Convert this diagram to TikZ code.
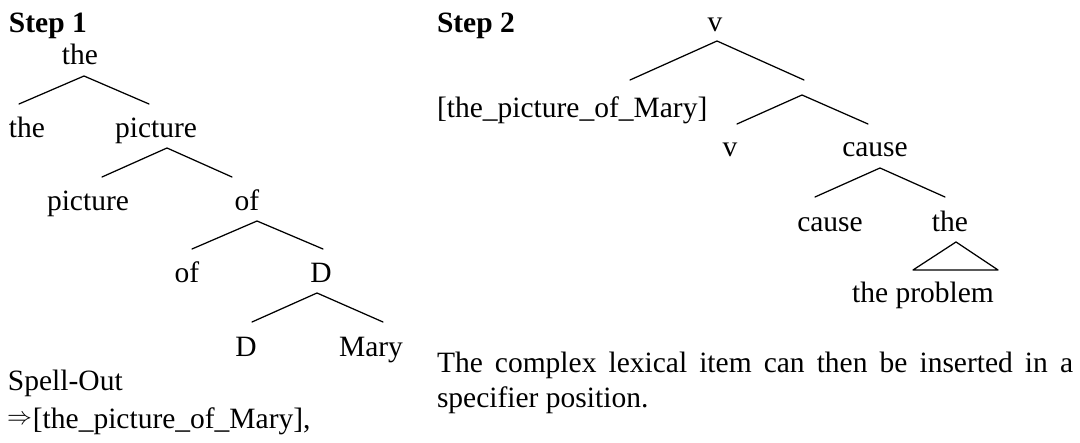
\documentclass[tikz,border=0pt]{standalone}
\usepackage{fontspec}
\setmainfont{Liberation Serif}
\begin{document}
\begin{tikzpicture}[x=1pt,y=-1pt,
  every node/.style={font=\fontsize{29.5}{35}\selectfont, inner sep=0pt, outer sep=0pt},
  lbl/.style={anchor=base},
  txt/.style={anchor=base west},
  edge/.style={line width=1.25pt, line cap=round, line join=round}]
\useasboundingbox (0,0) rectangle (1080,443);

% ---------- Step 1 ----------
\node[txt] (s1) at (9,33) {\bfseries Step 1};
\node[lbl] (a0) at (80,65) {the};
\node[lbl] (a1) at (27,138) {the};
\node[lbl] (a2) at (156,138) {picture};
\node[lbl] (b1) at (88,211) {picture};
\node[lbl] (b2) at (247,211) {of};
\node[lbl] (c1) at (187,283) {of};
\node[lbl] (c2) at (321,283) {D};
\node[lbl] (d1) at (246,357) {D};
\node[lbl] (d2) at (371,357) {Mary};
\node[txt] (so) at (8,391) {Spell-Out};
\node[txt] (res) at (7,429) {\raisebox{4.5pt}{\fontsize{23}{23}\selectfont$\Rightarrow$}\kern1pt[the\_picture\_of\_Mary],};

\coordinate (pa) at (84,76);  \coordinate (pal) at (19,104);  \coordinate (par) at (149,104);
\coordinate (pb) at (167,148); \coordinate (pbl) at (102,177); \coordinate (pbr) at (232,177);
\coordinate (pc) at (257,221); \coordinate (pcl) at (192,249); \coordinate (pcr) at (323,249);
\coordinate (pd) at (317,293); \coordinate (pdl) at (252,322); \coordinate (pdr) at (383,322);
\draw[edge] (pal) -- (pa) -- (par);
\draw[edge] (pbl) -- (pb) -- (pbr);
\draw[edge] (pcl) -- (pc) -- (pcr);
\draw[edge] (pdl) -- (pd) -- (pdr);

% ---------- Step 2 ----------
\node[txt] (s2) at (437,33) {\bfseries Step 2};
\node[lbl] (v0) at (715,32) {v};
\node[txt] (tpm) at (437,118) {[the\_picture\_of\_Mary]};
\node[lbl] (v1) at (730,157) {v};
\node[lbl] (k0) at (875,157) {cause};
\node[lbl] (k1) at (830,232) {cause};
\node[lbl] (t0) at (950,232) {the};
\node[lbl] (tp) at (923,303) {the problem};

\coordinate (qa) at (717,41);  \coordinate (qal) at (630,80);  \coordinate (qar) at (804,80);
\coordinate (qb) at (802,95);  \coordinate (qbl) at (737,124); \coordinate (qbr) at (868,124);
\coordinate (qc) at (880,168); \coordinate (qcl) at (815,197); \coordinate (qcr) at (945,197);
\coordinate (ta) at (956,242); \coordinate (tl) at (913,270);  \coordinate (tr) at (998,270);
\draw[edge] (qal) -- (qa) -- (qar);
\draw[edge] (qbl) -- (qb) -- (qbr);
\draw[edge] (qcl) -- (qc) -- (qcr);
\draw[edge] (ta) -- (tl) -- (tr) -- cycle;

\node[txt] (p1) at (437,373) {\makebox[636pt][s]{The complex lexical item can then be inserted in a}};
\node[txt] (p2) at (437,408) {specifier position.};
\end{tikzpicture}
\end{document}
